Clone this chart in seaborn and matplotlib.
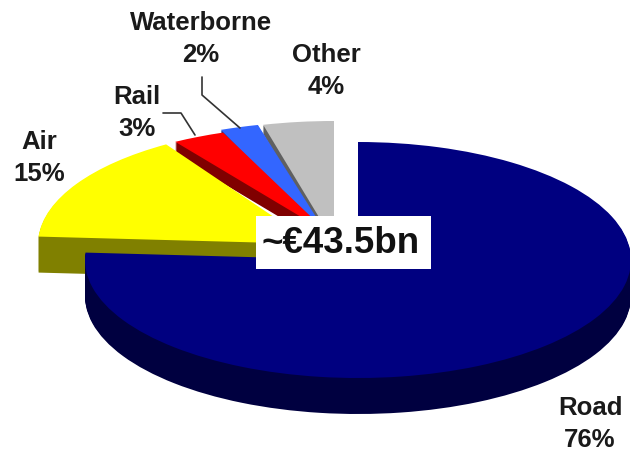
import seaborn as sns
import matplotlib.pyplot as plt
from matplotlib.patches import Wedge
from matplotlib.transforms import Affine2D

categories = ['Road', 'Air', 'Rail', 'Waterborne', 'Other']
shares = [76, 15, 3, 2, 4]
total_label = '~€43.5bn'

top_colors = ['#000080', '#FFFF00', '#FF0000', '#3366FF', '#C0C0C0']
side_colors = ['#000040', '#808000', '#800000', '#1A3380', '#606060']

# ellipse of each slice in pixels: centre x, centre y, radius x, radius y, depth
geometry = {
    'Road': (358, 261, 273, 118, 36),
    'Air': (314, 245, 276, 118, 36),
    'Rail': (328, 234, 285, 108, 13),
    'Waterborne': (335, 248, 310, 126, 6),
    'Other': (334, 243, 285, 121, 9),
}
# back to front
draw_order = ['Other', 'Waterborne', 'Rail', 'Air', 'Road']

# name, x, y of the label centre
label_pos = {
    'Road': (590, 424),
    'Air': (39, 158),
    'Rail': (137, 113),
    'Waterborne': (201, 39),
    'Other': (326, 71),
}
leaders = [
    ([163, 181, 195], [114, 114, 136]),
    ([202, 202, 240], [78, 96, 129]),
]

sns.set_theme(style='white')
plt.rcParams['font.family'] = ['Liberation Sans', 'DejaVu Sans']

fig = plt.figure(figsize=(6.3, 4.52), dpi=100)
ax = fig.add_axes([0, 0, 1, 1])

wedges, _ = ax.pie(shares, colors=sns.color_palette(top_colors), startangle=90, counterclock=False,
                   wedgeprops=dict(linewidth=0, edgecolor='none'))
ax.set_aspect('auto')
ax.set_xlim(0, 630)
ax.set_ylim(452, 0)
ax.axis('off')

for i, name in enumerate(categories):
    cx, cy, rx, ry, depth = geometry[name]
    z = 1 + draw_order.index(name)
    w = wedges[i]
    for d in range(depth, 0, -1):
        tr = Affine2D().scale(rx, -ry).translate(cx, cy + d) + ax.transData
        ax.add_patch(Wedge((0, 0), 1, w.theta1, w.theta2, facecolor=side_colors[i],
                           edgecolor='none', linewidth=0, transform=tr, zorder=z))
    w.set_transform(Affine2D().scale(rx, -ry).translate(cx, cy) + ax.transData)
    w.set_zorder(z + 0.5)

    x, y = label_pos[name]
    ax.text(x, y, f'{name}\n{shares[i]}%', ha='center', va='center', fontsize=18.5,
            fontweight='bold', color='#1a1a1a', linespacing=1.43, zorder=10)

for xs, ys in leaders:
    ax.plot(xs, ys, color='#333333', lw=1.2, zorder=9)

ax.text(341, 243.5, total_label, ha='center', va='center', fontsize=26.5, fontweight='bold',
        color='#111111', zorder=12)
# white box behind the total
ax.add_patch(plt.Rectangle((256, 217), 175, 53, facecolor='white', edgecolor='none', zorder=11))

fig.savefig('out.png', dpi=100)
